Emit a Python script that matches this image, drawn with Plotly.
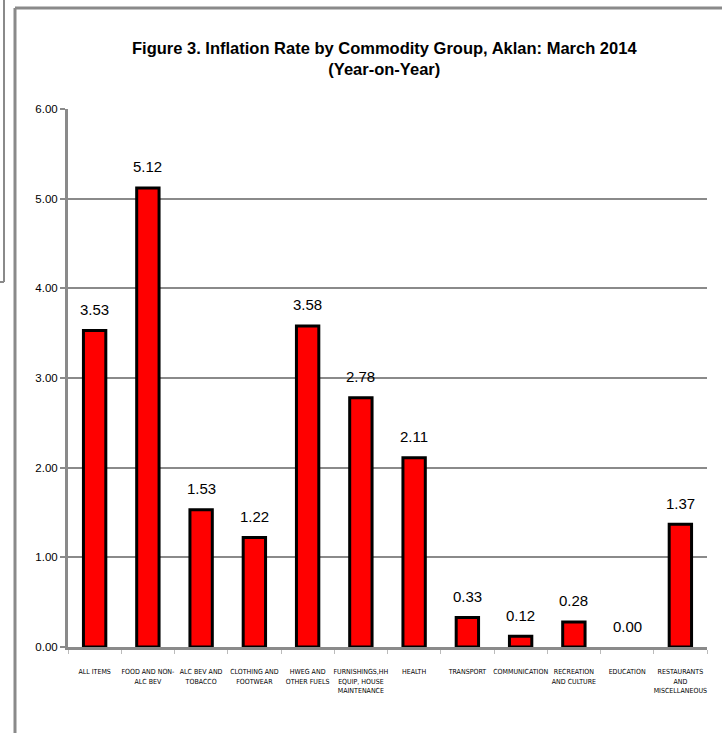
import plotly.graph_objects as go

categories = ["ALL ITEMS", "FOOD AND NON-<br>ALC BEV", "ALC BEV AND<br>TOBACCO",
              "CLOTHING AND<br>FOOTWEAR", "HWEG AND<br>OTHER FUELS",
              "FURNISHINGS,HH<br>EQUIP, HOUSE<br>MAINTENANCE", "HEALTH", "TRANSPORT",
              "COMMUNICATION", "RECREATION<br>AND CULTURE", "EDUCATION",
              "RESTAURANTS<br>AND<br>MISCELLANEOUS"]
values = [3.53, 5.12, 1.53, 1.22, 3.58, 2.78, 2.11, 0.33, 0.12, 0.28, 0.00, 1.37]
y_ticks = [0, 1, 2, 3, 4, 5, 6]
y_tick_labels = ["0.00", "1.00", "2.00", "3.00", "4.00", "5.00", "6.00"]

W, H = 722, 733
L, R, T, B = 68, 15, 109, 86
FONT = "Liberation Sans, Arial"
COND = "DejaVu Sans Condensed, Liberation Sans, Arial"

fig = go.Figure()
fig.add_trace(go.Bar(
    x=categories, y=values,
    marker=dict(color="#ff0000",
                line=dict(color="#000000", width=[3 if v > 0 else 0 for v in values])),
    showlegend=False,
))

annotations = []
for c, v in zip(categories, values):
    annotations.append(dict(x=c, y=v, text=f"{v:.2f}", showarrow=False,
                            yanchor="middle", yshift=21,
                            font=dict(family=FONT, size=15, color="#000")))

pw = W - L - R
ph = H - T - B
def px(xp):
    return (xp - L) / pw
def py(yp):
    return 1 - (yp - T) / ph

annotations.append(dict(xref="paper", yref="paper", x=px(384), y=py(58),
                        text="<b>Figure 3. Inflation Rate by Commodity Group, Aklan: March 2014</b><br><b>(Year-on-Year)</b>",
                        showarrow=False, xanchor="center", yanchor="middle",
                        font=dict(family=FONT, size=16.5, color="#000")))

gray = "#8a8a8a"
shapes = [
    dict(type="line", xref="paper", yref="paper", x0=px(15), x1=px(15), y0=py(8), y1=py(740), line=dict(color=gray, width=3)),
    dict(type="line", xref="paper", yref="paper", x0=px(15), x1=px(730), y0=py(8), y1=py(8), line=dict(color=gray, width=3)),
    dict(type="line", xref="paper", yref="paper", x0=px(4), x1=px(4), y0=py(-5), y1=py(282), line=dict(color=gray, width=2)),
    dict(type="line", xref="paper", yref="paper", x0=px(-5), x1=px(4), y0=py(282), y1=py(282), line=dict(color=gray, width=2)),
]

fig.update_layout(
    width=W, height=H,
    margin=dict(l=L, r=R, t=T, b=B),
    paper_bgcolor="white", plot_bgcolor="white",
    bargap=0.58,
    annotations=annotations,
    shapes=shapes,
    font=dict(family=FONT, color="#000"),
    xaxis=dict(
        showgrid=False, showline=True, linecolor=gray, linewidth=3,
        ticks="outside", ticklen=4, tickcolor="#bbbbbb", tickwidth=1,
        tickson="boundaries", layer="above traces",
        tickfont=dict(family=COND, size=7, color="#000"),
        ticklabelstandoff=16, tickangle=0,
    ),
    yaxis=dict(
        range=[0, 6], tickvals=y_ticks, ticktext=y_tick_labels,
        showgrid=True, gridcolor=gray, gridwidth=2,
        showline=True, linecolor=gray, linewidth=3,
        ticks="outside", ticklen=5, tickcolor=gray, tickwidth=2,
        tickfont=dict(family=FONT, size=11.5, color="#000"),
        zeroline=False,
    ),
)

fig.write_html("out.html")
